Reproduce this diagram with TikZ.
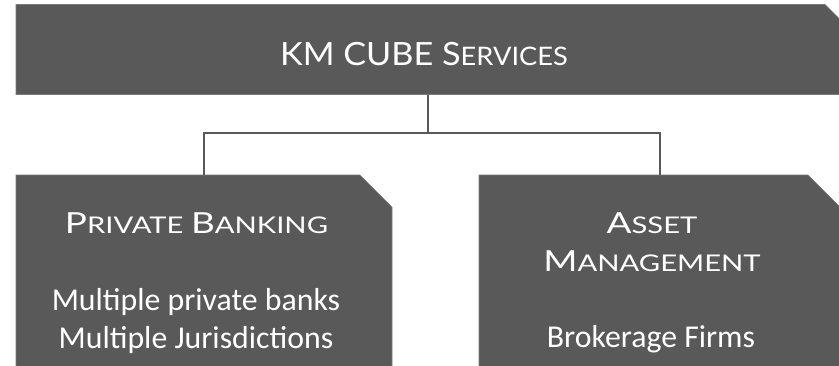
\documentclass[tikz,border=0pt]{standalone}
\usepackage{fontspec}
\setmainfont{Carlito}
\newfontfamily\titfont[FakeStretch=1.07]{Lato}
\newfontfamily\hdfont[FakeStretch=1.27]{Lato}
\usetikzlibrary{calc}
\definecolor{boxgray}{HTML}{595959}
\definecolor{edgegray}{HTML}{7A7A7A}
\newcommand\titBig{\titfont\fontsize{32}{32}\selectfont}
\newcommand\titSm{\titfont\fontsize{25.5}{25.5}\selectfont}
\newcommand\hdBig{\hdfont\fontsize{29}{29}\selectfont}
\newcommand\hdSm{\hdfont\fontsize{23}{23}\selectfont}
\newcommand\bodyfs{\fontsize{31.8}{31.8}\selectfont}
\tikzset{
  frame/.style={inner sep=0pt, outer sep=0pt},
  boxfill/.style={fill=boxgray, draw=edgegray, line width=0.6pt},
  conn/.style={draw=boxgray, line width=2pt},
  txt/.style={text=white, anchor=base, inner sep=0pt},
}
\begin{document}
\begin{tikzpicture}[x=1pt,y=-1pt]
\useasboundingbox (0,0) rectangle (839,365);
\clip (0,0) rectangle (839,365);
% frames
\node[frame, minimum width=824pt, minimum height=90pt] (top) at (428,49.5) {};
\node[frame, anchor=north, minimum width=376pt, minimum height=240pt] (left) at (204,175) {};
\node[frame, anchor=north, minimum width=361pt, minimum height=240pt] (right) at (659.5,175) {};
% shapes
\path[boxfill] (top.north west) -- ($(top.north east)+(-15,0)$) -- ($(top.north east)+(0,15)$) -- (top.south east) -- (top.south west) -- cycle;
\path[boxfill] (left.north west) -- ($(left.north east)+(-32,0)$) -- ($(left.north east)+(0,32)$) -- (left.south east) -- (left.south west) -- cycle;
\path[boxfill] (right.north west) -- ($(right.north east)+(-32,0)$) -- ($(right.north east)+(0,32)$) -- (right.south east) -- (right.south west) -- cycle;
% connectors
\coordinate (bus) at (428,133);
\draw[conn] (top.south) -- (bus) -| (left.north);
\draw[conn] (bus) -| (right.north);
% texts
\node[txt] (t0) at (424,65) {\titBig KM CUBE S\titSm ERVICES};
\node[txt] (t1) at (196.5,233) {\hdBig P\hdSm RIVATE \hdBig B\hdSm ANKING};
\node[txt] (t2) at (196,310) {\bodyfs Multiple private banks};
\node[txt] (t3) at (196,348) {\bodyfs Multiple Jurisdictions};
\node[txt] (t4) at (652,233) {\hdBig A\hdSm SSET};
\node[txt] (t5) at (652,271) {\hdBig M\hdSm ANAGEMENT};
\node[txt] (t6) at (651,347) {\bodyfs Brokerage Firms};
\end{tikzpicture}
\end{document}
